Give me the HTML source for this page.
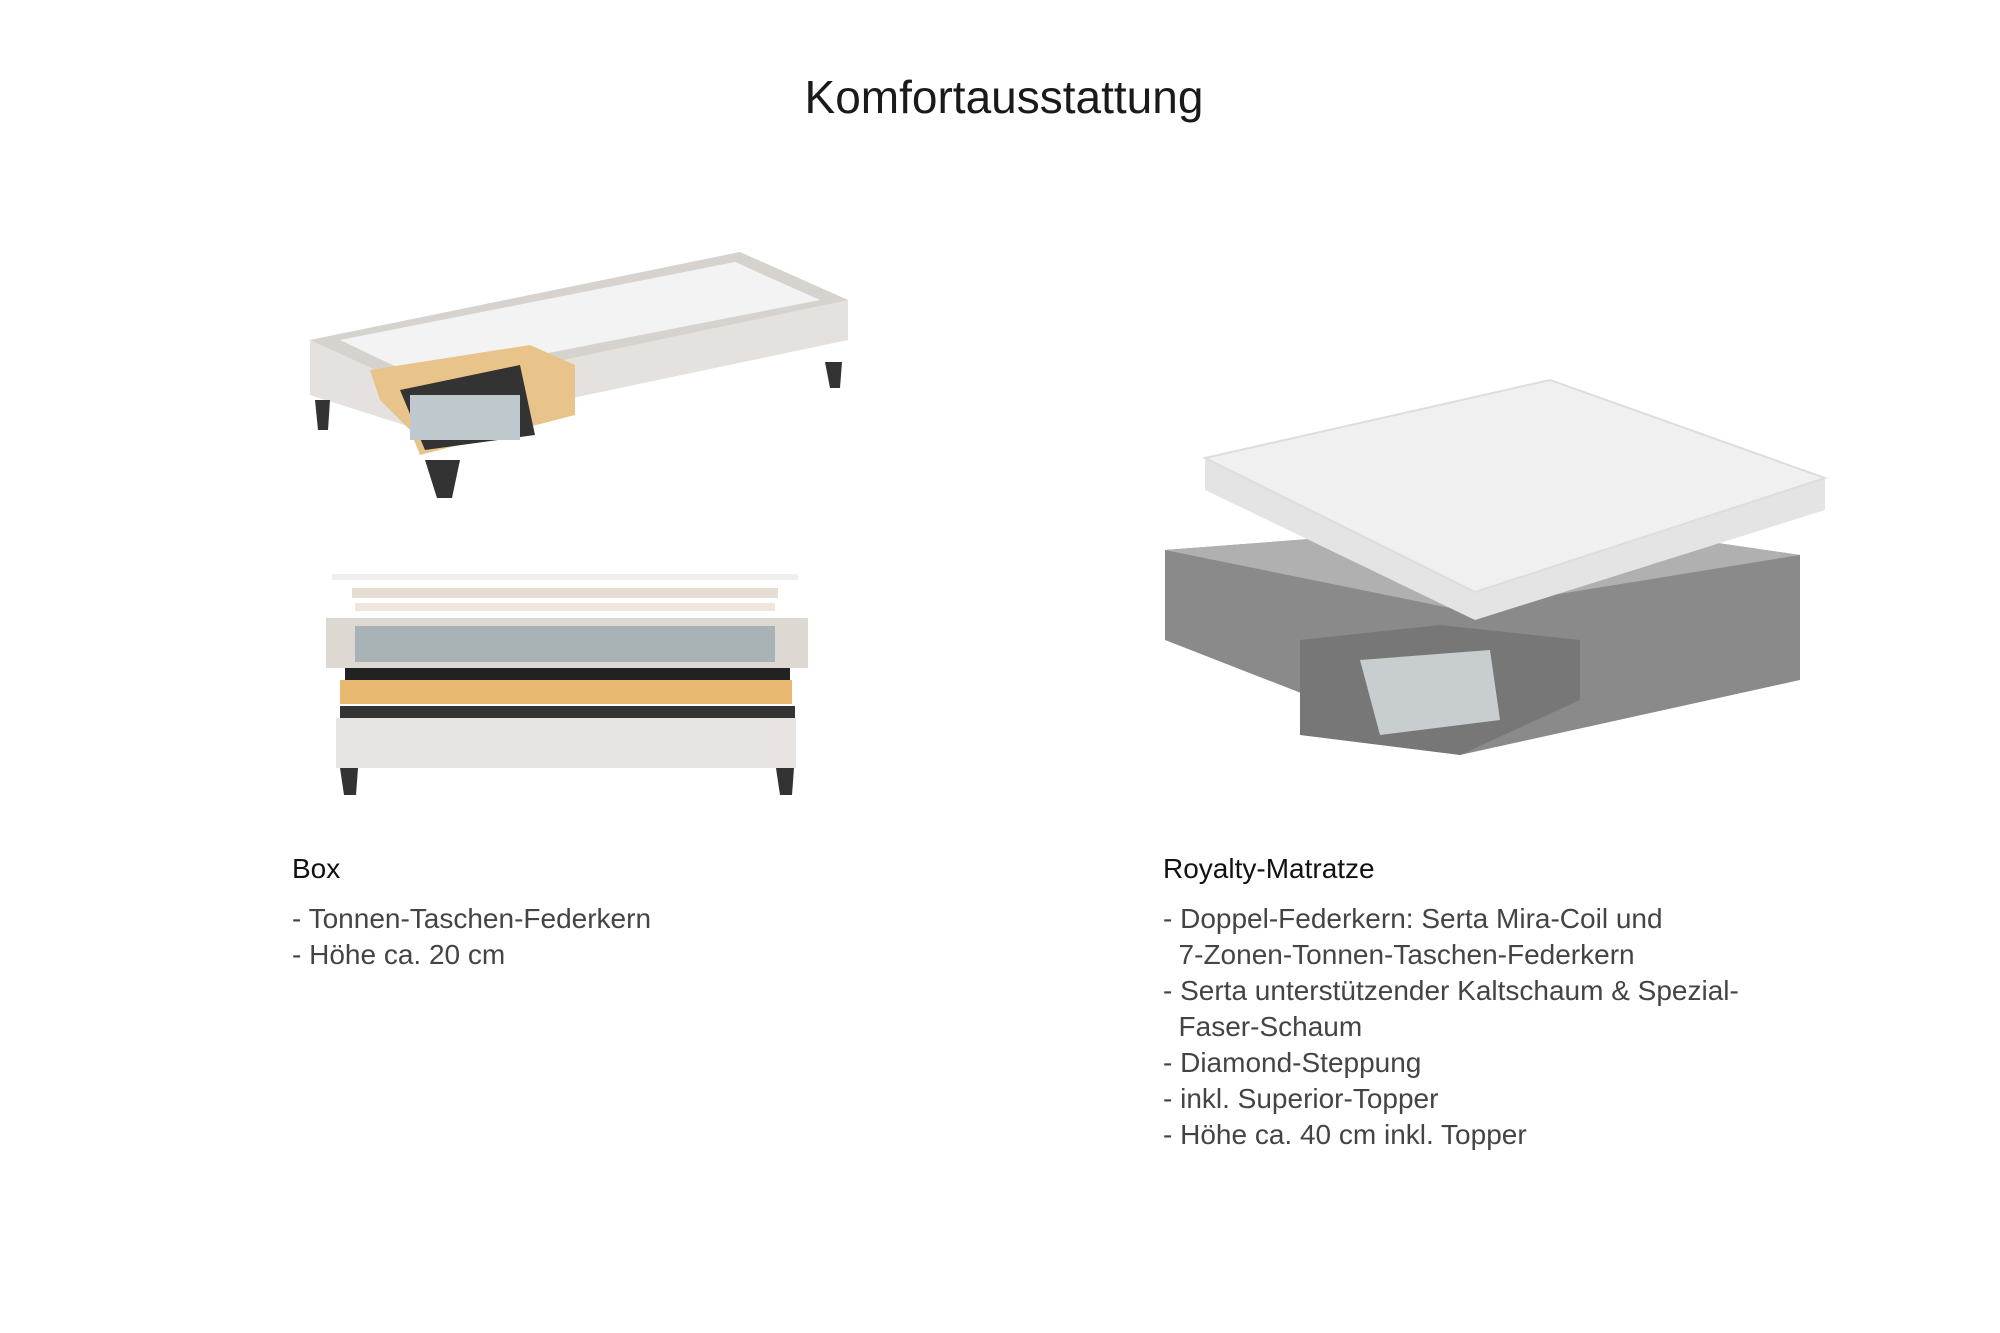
<!DOCTYPE html>
<html><head><meta charset="utf-8"><style>
body{margin:0;width:2000px;height:1333px;background:#fff;position:relative;overflow:hidden;font-family:"Liberation Sans",sans-serif;color:#222}
.t{position:absolute;left:0;width:2008px;text-align:center;top:70px;font-size:46px;font-weight:300;color:#1a1a1a}
.h{position:absolute;font-size:28px;color:#111}
.l{position:absolute;font-size:28px;line-height:36px;color:#444}
svg{position:absolute;left:0;top:0}
</style></head><body>
<div class="t">Komfortausstattung</div>
<svg width="2000" height="1333">
<polygon points="310,340 740,252 848,300 848,340 420,430 310,395" fill="#e4e1de"/>
<polygon points="310,340 740,252 848,300 420,390" fill="#d6d3cf"/>
<polygon points="340,340 735,262 820,300 420,378" fill="#f3f3f3"/>
<polygon points="370,370 530,345 575,365 575,415 420,455 410,430 380,400" fill="#e8c48a"/>
<polygon points="400,390 520,365 535,435 425,450" fill="#333"/>
<rect x="410" y="395" width="110" height="45" fill="#bfc8cc"/>
<polygon points="315,400 330,400 328,430 318,430" fill="#333"/>
<polygon points="425,460 460,460 452,498 437,498" fill="#333"/>
<polygon points="825,362 842,362 840,388 830,388" fill="#333"/>
<rect x="332" y="574" width="466" height="6" fill="#eee"/>
<rect x="352" y="588" width="426" height="10" fill="#e6ddd3"/>
<rect x="355" y="603" width="420" height="8" fill="#eee6dc"/>
<rect x="326" y="618" width="482" height="50" fill="#ddd8d2"/>
<rect x="355" y="626" width="420" height="36" fill="#a9b2b5"/>
<rect x="345" y="668" width="445" height="12" fill="#222"/>
<rect x="340" y="680" width="452" height="24" fill="#e6b870"/>
<rect x="340" y="706" width="455" height="14" fill="#333"/>
<rect x="336" y="718" width="460" height="50" fill="#e7e4e1"/>
<polygon points="340,768 358,768 356,795 344,795" fill="#333"/>
<polygon points="776,768 794,768 792,795 780,795" fill="#333"/>
<polygon points="1165,550 1560,520 1800,555 1800,680 1460,755 1165,640" fill="#8a8a8a"/>
<polygon points="1165,550 1560,520 1800,555 1460,610" fill="#b0b0b0"/>
<polygon points="1300,640 1440,625 1580,640 1580,700 1460,755 1300,735" fill="#777"/>
<polygon points="1360,660 1490,650 1500,720 1380,735" fill="#c8ced0"/>
<polygon points="1205,458 1550,380 1825,478 1825,510 1475,620 1205,490" fill="#e4e4e4"/>
<polygon points="1205,458 1550,380 1825,478 1475,592" fill="#f0f0f0" stroke="#ddd" stroke-width="2"/>
</svg>
<div class="h" style="left:292px;top:853px">Box</div>
<div class="l" style="left:292px;top:901px">- Tonnen-Taschen-Federkern<br>- Höhe ca. 20 cm</div>
<div class="h" style="left:1163px;top:853px">Royalty-Matratze</div>
<div class="l" style="left:1163px;top:901px">- Doppel-Federkern: Serta Mira-Coil und<br>&nbsp;&nbsp;7-Zonen-Tonnen-Taschen-Federkern<br>- Serta unterstützender Kaltschaum &amp; Spezial-<br>&nbsp;&nbsp;Faser-Schaum<br>- Diamond-Steppung<br>- inkl. Superior-Topper<br>- Höhe ca. 40 cm inkl. Topper</div>
</body></html>
